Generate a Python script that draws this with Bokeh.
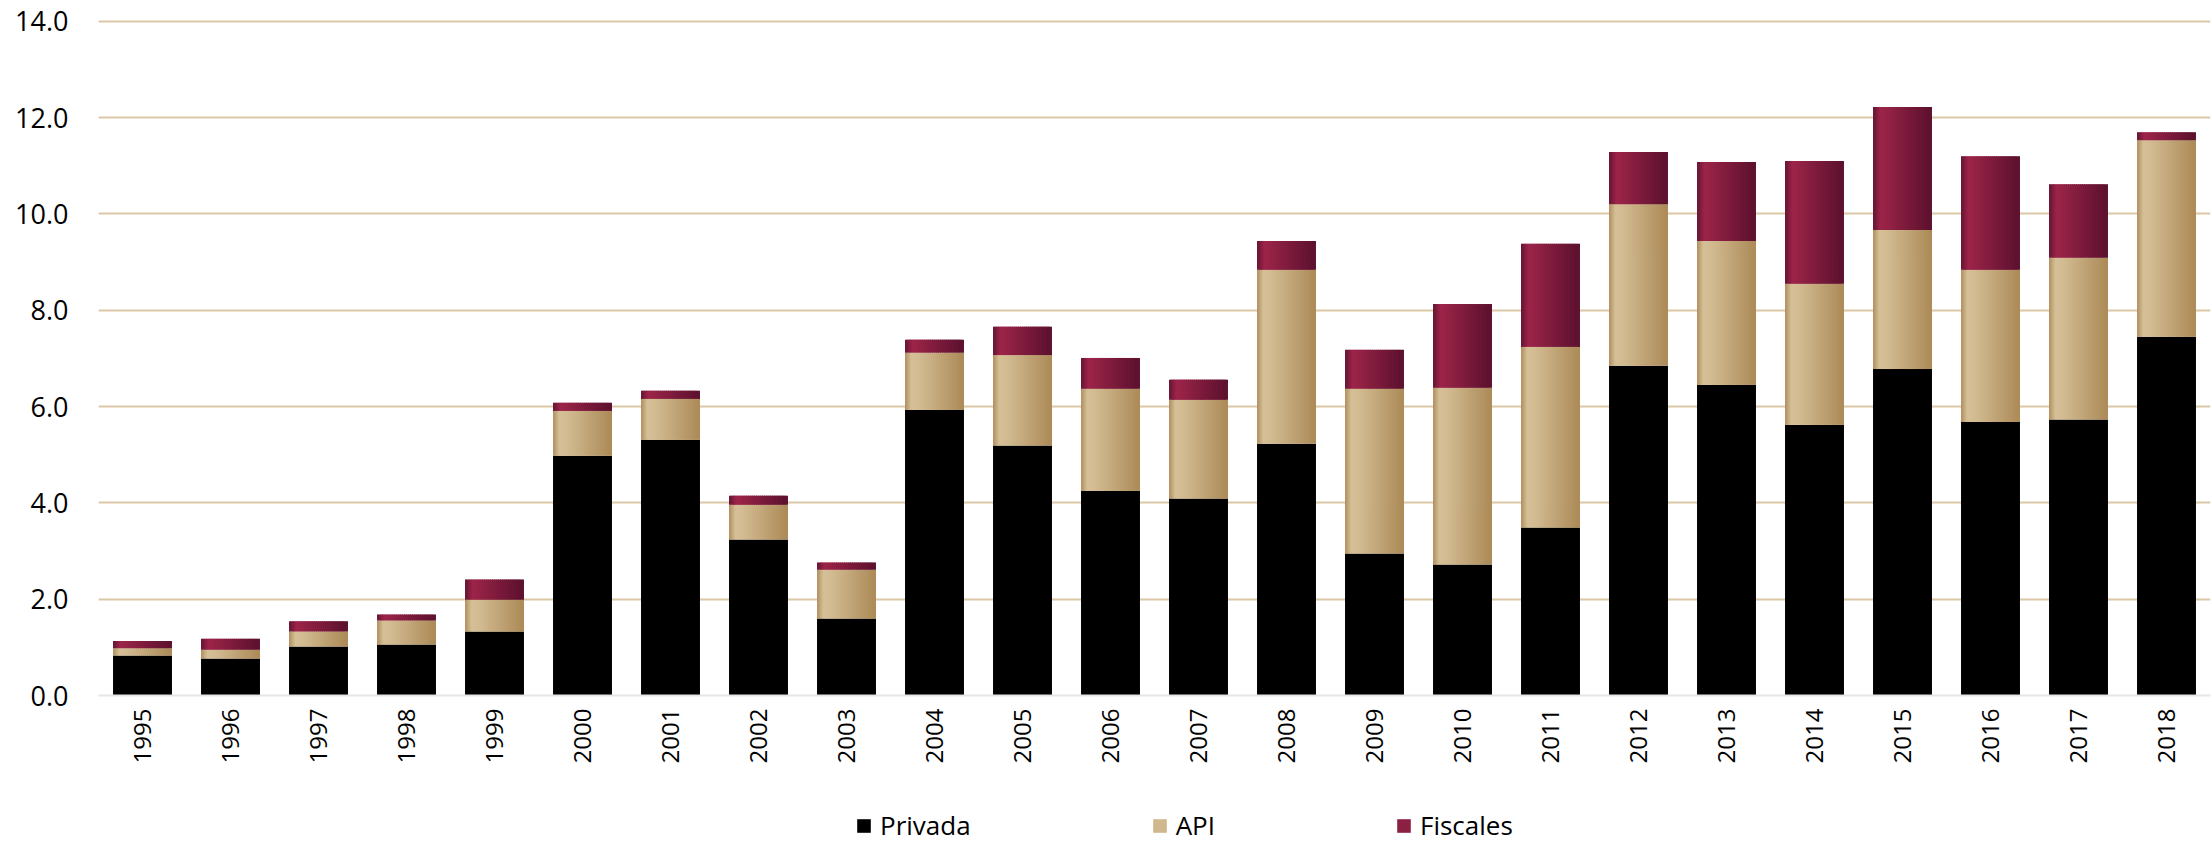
import math
from bokeh.plotting import figure
from bokeh.layouts import column
from bokeh.models import FactorRange, FixedTicker, PrintfTickFormatter, Legend, LegendItem, ColumnDataSource
from bokeh.transform import dodge
from bokeh.embed import file_html
from bokeh.resources import INLINE

years = [str(y) for y in range(1995, 2019)]
privada = [0.83, 0.77, 1.02, 1.06, 1.33, 4.98, 5.31, 3.24, 1.60, 5.93, 5.19, 4.25,
           4.09, 5.23, 2.95, 2.72, 3.49, 6.85, 6.45, 5.62, 6.78, 5.68, 5.73, 7.45]
api = [0.15, 0.18, 0.31, 0.50, 0.66, 0.93, 0.85, 0.72, 1.01, 1.19, 1.88, 2.12,
       2.05, 3.61, 3.42, 3.67, 3.75, 3.35, 2.99, 2.93, 2.89, 3.16, 3.36, 4.08]
fiscales = [0.15, 0.23, 0.21, 0.12, 0.42, 0.17, 0.17, 0.19, 0.15, 0.27, 0.59, 0.64,
            0.42, 0.60, 0.81, 1.74, 2.14, 1.09, 1.64, 2.55, 2.55, 2.36, 1.53, 0.17]
series_names = ["Privada", "API", "Fiscales"]
y_ticks = [0, 2, 4, 6, 8, 10, 12, 14]

FONT = "Open Sans"
BAR_W = 0.67
N_SLICES = 30
W = 2211
MAIN_H = 793
LEG_H = 50

api_top = [a + b for a, b in zip(privada, api)]
fis_top = [a + b for a, b in zip(api_top, fiscales)]
source = ColumnDataSource(dict(years=years, zero=[0] * len(years), privada=privada,
                               api_top=api_top, fis_top=fis_top))

api_stops = [(0.0, (172, 138, 88)), (0.12, (214, 192, 153)), (0.3, (208, 184, 142)), (1.0, (172, 138, 87))]
fis_stops = [(0.0, (96, 18, 48)), (0.14, (158, 37, 74)), (0.35, (140, 32, 66)), (1.0, (92, 16, 46))]


def grad(stops, t):
    for (t0, c0), (t1, c1) in zip(stops[:-1], stops[1:]):
        if t0 <= t <= t1:
            f = (t - t0) / (t1 - t0)
            return "#%02x%02x%02x" % tuple(int(round(a + (b - a) * f)) for a, b in zip(c0, c1))
    return "#%02x%02x%02x" % stops[-1][1]


p = figure(x_range=FactorRange(*years), y_range=(0, 14.06), width=W, height=MAIN_H,
           output_backend="svg", toolbar_location=None,
           min_border_left=98, min_border_right=1, min_border_top=18, min_border_bottom=MAIN_H - 695)
p.background_fill_color = "white"
p.border_fill_color = "white"
p.outline_line_color = None

p.vbar(x="years", bottom="zero", top="privada", width=BAR_W, source=source,
       fill_color="black", line_color=None)

slice_w = BAR_W / N_SLICES
for k in range(N_SLICES):
    t = (k + 0.5) / N_SLICES
    off = -BAR_W / 2 + (k + 0.5) * slice_w
    xs = dodge("years", off, range=p.x_range)
    wk = slice_w * (1.0 if k in (0, N_SLICES - 1) else 1.6)
    p.vbar(x=xs, bottom="privada", top="api_top", width=wk, source=source,
           fill_color=grad(api_stops, t), line_color=None)
    p.vbar(x=xs, bottom="api_top", top="fis_top", width=wk, source=source,
           fill_color=grad(fis_stops, t), line_color=None)

p.xgrid.grid_line_color = None
p.ygrid.ticker = FixedTicker(ticks=y_ticks[1:])
p.ygrid.grid_line_color = "#dbc8a6"
p.ygrid.grid_line_width = 2

p.yaxis.ticker = FixedTicker(ticks=y_ticks)
p.yaxis.formatter = PrintfTickFormatter(format="%.1f")
p.yaxis.axis_line_color = None
p.yaxis.major_tick_line_color = None
p.yaxis.minor_tick_line_color = None
p.yaxis.major_tick_out = 0
p.yaxis.major_label_standoff = 30
p.yaxis.major_label_text_font = FONT
p.yaxis.major_label_text_font_size = "27px"
p.yaxis.major_label_text_color = "black"

p.xaxis.axis_line_color = "#e6e6e6"
p.xaxis.axis_line_width = 2
p.xaxis.major_tick_line_color = None
p.xaxis.major_tick_out = 0
p.xaxis.major_label_orientation = math.pi / 2
p.xaxis.major_label_standoff = 13
p.xaxis.major_label_text_font = FONT
p.xaxis.major_label_text_font_size = "24px"
p.xaxis.major_label_text_color = "black"

# legend strip below the chart (its renderers sit outside the strip's visible y range)
lp = figure(width=W, height=LEG_H, x_range=FactorRange(*years), y_range=(100, 101),
            output_backend="svg", toolbar_location=None,
            x_axis_location=None, y_axis_location=None, min_border=0)
lp.grid.visible = False
lp.outline_line_color = None
lp.background_fill_color = "white"
lp.border_fill_color = "white"
lg_priv = lp.vbar(x="years", top="privada", width=BAR_W, source=source,
                  fill_color="black", line_color=None)
lg_api = lp.vbar(x="years", bottom="privada", top="api_top", width=BAR_W, source=source,
                 fill_color=grad(api_stops, 0.3), line_color=None)
lg_fis = lp.vbar(x="years", bottom="api_top", top="fis_top", width=BAR_W, source=source,
                 fill_color=grad(fis_stops, 0.35), line_color=None)

legend = Legend(items=[LegendItem(label=series_names[0], renderers=[lg_priv]),
                       LegendItem(label=series_names[1], renderers=[lg_api]),
                       LegendItem(label=series_names[2], renderers=[lg_fis])],
                location=(757, 0), orientation="horizontal", spacing=180,
                glyph_width=17, glyph_height=17, label_standoff=8,
                label_text_font=FONT, label_text_font_size="26px", label_text_color="black",
                padding=0, margin=0, border_line_alpha=0, background_fill_alpha=0)
lp.add_layout(legend, "center")

layout = column(p, lp, spacing=0)
open("out.html", "w").write(file_html(layout, INLINE))
